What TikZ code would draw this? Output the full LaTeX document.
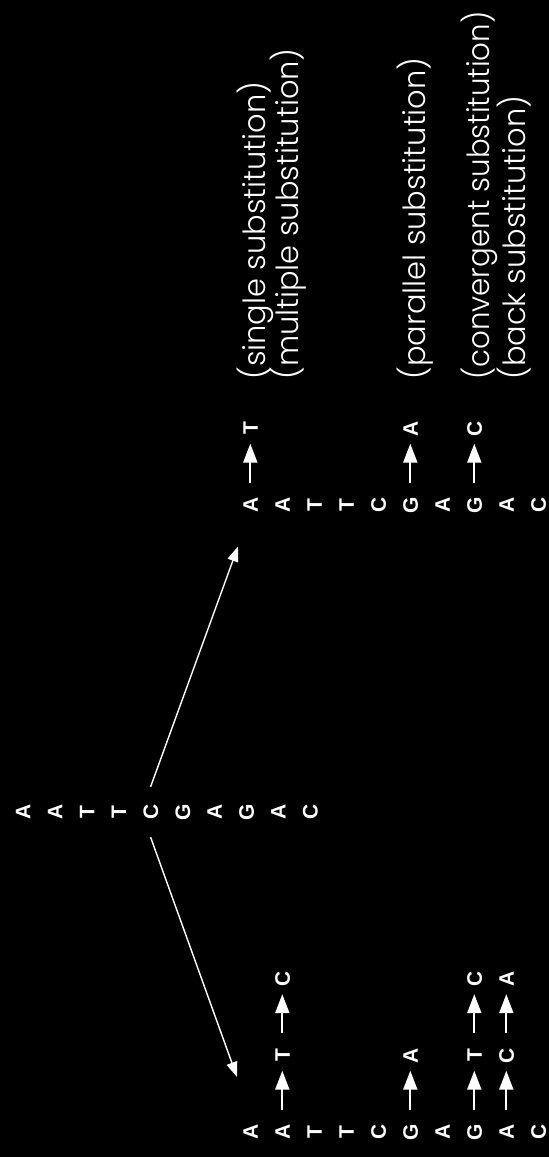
\documentclass[tikz,border=0pt]{standalone}
\usepackage{fontspec}
\setmainfont{Liberation Sans}
\newfontfamily\labfont{Poppins Light}
\usetikzlibrary{arrows.meta}
\begin{document}
\begin{tikzpicture}[x=1pt,y=1pt,
  base/.style={rotate=90, inner sep=0pt, text=white, font=\fontsize{21}{21}\selectfont\bfseries, text height=15pt, text depth=0pt},
  seq/.style={base, minimum width=30pt},
  anc/.style={base, minimum width=50pt},
  mut/.style={draw=white, line width=2pt, -{Triangle[length=19pt,width=14pt]}, shorten <=7pt},
  tree/.style={draw=white, line width=1.4pt, -{Triangle[length=15pt,width=11pt]}},
  lab/.style={rotate=90, anchor=west, inner sep=0pt, text=white, font=\labfont\fontsize{30.5}{30.5}\selectfont}]
\fill[black] (0,0) rectangle (549,-1157);
\useasboundingbox (0,0) rectangle (549,-1157);
% ancestor
\foreach \l [count=\i] in {A,A,T,T,C,G,A,G,A,C}
  \node[anc] (m\i) at ({23+31.9*(\i-1)},-812) {\l};
% right descendant
\foreach \l [count=\i] in {A,A,T,T,C,G,A,G,A,C}
  \node[seq] (r\i) at ({250.3+32.0*(\i-1)},-505) {\l};
% left descendant
\foreach \l [count=\i] in {A,A,T,T,C,G,A,G,A,C}
  \node[seq] (b\i) at ({250.3+32.0*(\i-1)},-1132) {\l};
% tree arrows
\coordinate (tu) at (238,-546.5);
\coordinate (td) at (237,-1077);
\draw[tree] (m5.east) -- (tu);
\draw[tree] (m5.west) -- (td);
% right mutations
\node[seq] (r1a) at ([yshift=76.5pt]r1.center) {T};
\node[seq] (r6a) at ([yshift=76.5pt]r6.center) {A};
\node[seq] (r8a) at ([yshift=76.5pt]r8.center) {C};
\draw[mut] (r1.east) -- (r1a.west);
\draw[mut] (r6.east) -- (r6a.west);
\draw[mut] (r8.east) -- (r8a.west);
% left mutations
\node[seq] (b2a) at ([yshift=76.5pt]b2.center) {T};
\node[seq] (b2b) at ([yshift=76.5pt]b2a.center) {C};
\node[seq] (b6a) at ([yshift=76.5pt]b6.center) {A};
\node[seq] (b8a) at ([yshift=76.5pt]b8.center) {T};
\node[seq] (b8b) at ([yshift=76.5pt]b8a.center) {C};
\node[seq] (b9a) at ([yshift=76.5pt]b9.center) {C};
\node[seq] (b9b) at ([yshift=76.5pt]b9a.center) {A};
\draw[mut] (b2.east) -- (b2a.west);
\draw[mut] (b2a.east) -- (b2b.west);
\draw[mut] (b6.east) -- (b6a.west);
\draw[mut] (b8.east) -- (b8a.west);
\draw[mut] (b8a.east) -- (b8b.west);
\draw[mut] (b9.east) -- (b9a.west);
\draw[mut] (b9a.east) -- (b9b.west);
% labels
\node[lab] (l1) at (255,-380) {(single substitution)};
\node[lab] (l2) at (288,-380) {(multiple substitution)};
\node[lab] (l3) at (415,-380) {(parallel substitution)};
\node[lab] (l4) at (479,-380) {\scalebox{0.96}[1]{(convergent substitution)}};
\node[lab] (l5) at (514,-380) {(back substitution)};
\end{tikzpicture}
\end{document}
